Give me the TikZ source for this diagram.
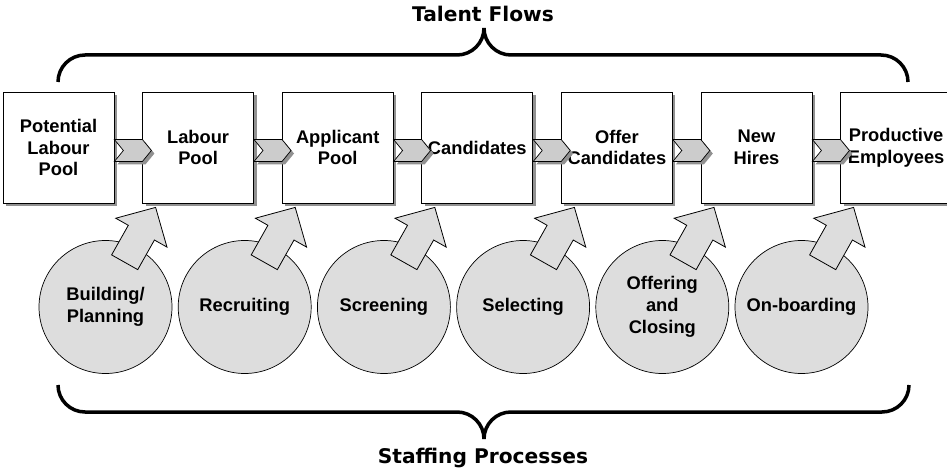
\documentclass[tikz,border=0pt]{standalone}
\usepackage{fontspec}
\setmainfont{Liberation Sans}
\newfontfamily\headfont{DejaVu Sans}
\usetikzlibrary{positioning,shadows}

\definecolor{shadowgray}{RGB}{145,145,145}
\definecolor{procgray}{RGB}{221,221,221}
\definecolor{chevgray}{RGB}{204,204,204}

\tikzset{
  stage/.style={draw,fill=white,line width=0.8pt,minimum size=111pt,inner sep=0pt,align=center,
    font=\bfseries\fontsize{18.3}{21.8}\selectfont,
    drop shadow={shadow xshift=3pt,shadow yshift=-3pt,fill=shadowgray,opacity=1}},
  proc/.style={circle,draw,fill=procgray,line width=0.7pt,minimum size=133pt,inner sep=0pt,align=center,
    font=\bfseries\fontsize{18.3}{22.3}\selectfont},
  heading/.style={font=\headfont\bfseries\fontsize{20.2}{24}\selectfont},
  brace/.style={line width=3.5pt},
  % chevron between two stages
  chevron/.pic={
    \draw[fill=chevgray,line width=0.7pt,
      drop shadow={shadow xshift=3pt,shadow yshift=-3pt,fill=shadowgray,opacity=1}]
      (0,9.5) -- ++(28,0) -- ++(9,-11) -- ++(-9,-11) -- ++(-28,0) -- ++(9,11) -- cycle;
  },
  % block arrow from a process up to a stage
  push/.pic={
    \draw[fill=procgray,line width=0.8pt,rotate=60.6]
      (0,0) -- (-29,29.4) -- (-29,15) -- (-63,15) -- (-63,-15) -- (-29,-15) -- (-29,-29.4) -- cycle;
  }
}

\begin{document}
\begin{tikzpicture}[x=1pt,y=1pt,node distance=27.8pt]
  \useasboundingbox (0,0) rectangle (947,-473);

  % talent flows
  \node[stage] (potential) at (58.5,-147.5) {Potential\\Labour\\Pool};
  \node[stage,right=of potential] (labour) {Labour\\Pool};
  \node[stage,right=of labour] (applicant) {Applicant\\Pool};
  \node[stage,right=of applicant] (cand) {Candidates};
  \node[stage,right=of cand] (offer) {Offer\\Candidates};
  \node[stage,right=of offer] (hires) {New\\Hires};
  \node[stage,right=of hires] (productive) {Productive\\Employees};

  \pic at ([yshift=-1.5pt]potential.east) {chevron};
  \pic at ([yshift=-1.5pt]labour.east) {chevron};
  \pic at ([yshift=-1.5pt]applicant.east) {chevron};
  \pic at ([yshift=-1.5pt]cand.east) {chevron};
  \pic at ([yshift=-1.5pt]offer.east) {chevron};
  \pic at ([yshift=-1.5pt]hires.east) {chevron};

  % staffing processes
  \node[proc] (building) at (105.5,-307) {Building/\\Planning};
  \node[proc,right=5.5pt of building] (recruiting) {Recruiting};
  \node[proc,right=5.5pt of recruiting] (screening) {Screening};
  \node[proc,right=5.5pt of screening] (selecting) {Selecting};
  \node[proc,right=5.5pt of selecting] (offering) {Offering\\and\\Closing};
  \node[proc,right=5.5pt of offering] (onboarding) {On-boarding};

  \pic at ([xshift=-42.5pt,yshift=-4pt]labour.south) {push};
  \pic at ([xshift=-42.5pt,yshift=-4pt]applicant.south) {push};
  \pic at ([xshift=-42.5pt,yshift=-4pt]cand.south) {push};
  \pic at ([xshift=-42.5pt,yshift=-4pt]offer.south) {push};
  \pic at ([xshift=-42.5pt,yshift=-4pt]hires.south) {push};
  \pic at ([xshift=-42.5pt,yshift=-4pt]productive.south) {push};

  % braces
  \draw[brace] (58,-82) arc[start angle=180,end angle=90,radius=27] -- (457,-55)
    arc[start angle=-90,end angle=0,radius=27];
  \draw[brace] (484,-28) arc[start angle=180,end angle=270,radius=27] -- (881,-55)
    arc[start angle=90,end angle=0,radius=27];
  \draw[brace] (58,-385) arc[start angle=180,end angle=270,radius=27] -- (457,-412)
    arc[start angle=90,end angle=0,radius=27];
  \draw[brace] (484,-439) arc[start angle=180,end angle=90,radius=27] -- (882,-412)
    arc[start angle=270,end angle=360,radius=27];

  \node[heading] (flows) at (483,-14) {Talent Flows};
  \node[heading] (processes) at (483,-458) {Staffing Processes};
\end{tikzpicture}
\end{document}
